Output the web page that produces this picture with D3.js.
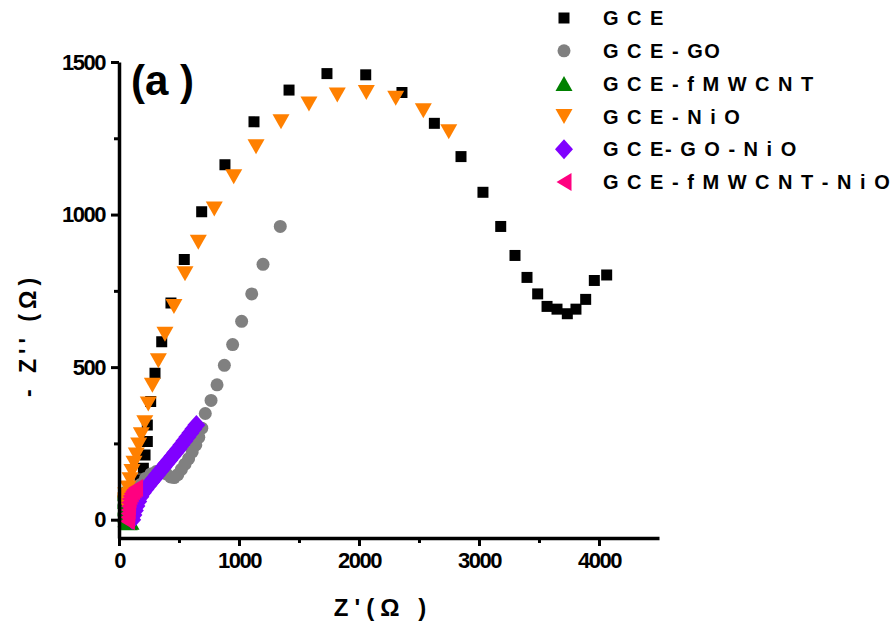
<!DOCTYPE html>
<html><head><meta charset="utf-8">
<script src="https://cdn.jsdelivr.net/npm/d3@7"></script>
<style>
body{margin:0;background:#fff;}
text{font-family:"Liberation Sans",Arial,sans-serif;font-weight:bold;fill:#000;}
</style></head>
<body><svg id="c" width="895" height="625"></svg>
<script>
// ---- data ----
const seriesNames = ["G C E","G C E - GO","G C E - f M W C N T","G C E - N i O","G C E- G O - N i O","G C E - f M W C N T - N i O"];
const seriesColors = ["#000000","#808080","#008000","#FF8000","#8000FF","#FF0080"];
const seriesShapes = ["square","circle","up","down","diamond","left"];
const xTicks = [0,1000,2000,3000,4000];
const xMinor = [500,1500,2500,3500];
const yTicks = [0,500,1000,1500];
const yMinor = [250,750,1250];

const gce = [[75,7],[100,26],[125,56],[150,92],[175,131],[203,169],[217,212],[236,256],[236,310],[264,387],[300,480],[356,583],[433,710],[544,853],[689,1009],[883,1163],[1125,1304],[1417,1408],[1733,1462],[2056,1458],[2358,1400],[2628,1299],[2850,1190],[3033,1073],[3181,961],[3300,866],[3400,794],[3489,740],[3567,699],[3650,690],[3736,675],[3808,690],[3889,722],[3961,784],[4064,802]];
const gceGO = [[70,5],[90,30],[115,60],[145,90],[180,115],[220,135],[265,150],[310,158],[355,158],[395,150],[430,140],[460,138],[490,148],[520,165],[550,182],[580,200],[610,222],[640,245],[665,270],[690,300],[719,348],[767,391],[817,442],[878,506],[947,574],[1022,650],[1106,740],[1200,837],[1344,961]];
const gceMW = [[30,85],[35,60],[40,35],[45,15],[55,0],[70,-8],[85,-10],[100,-8]];
const gceNiO = [[33,65],[53,82],[75,104],[92,131],[108,158],[125,185],[144,212],[164,245],[186,278],[215,318],[244,379],[278,441],[328,521],[383,608],[458,699],[550,806],[661,909],[794,1018],[956,1124],[1142,1222],[1350,1304],[1583,1362],[1819,1392],[2061,1400],[2306,1381],[2536,1340],[2748,1271]];
const gceGONiO = [[110,0],[120,15],[132,30],[145,45],[160,60],[178,75],[198,88],[220,100],[245,112],[270,124],[295,136],[320,148],[345,160],[370,172],[395,184],[420,196],[445,208],[470,220],[495,232],[520,245],[545,258],[570,271],[595,284],[620,297],[645,310]];
const gceMWNiO = [[70,-5],[72,8],[74,20],[76,32],[78,44],[80,56],[84,68],[92,78],[102,86],[114,93],[126,99],[138,104]];
const allSeries = [gce,gceGO,gceMW,gceNiO,gceGONiO,gceMWNiO];

// ---- layout ----
const svg = d3.select("#c");
const x = d3.scaleLinear().domain([0,4500]).range([119,659]);
const y = d3.scaleLinear().domain([-60,1500]).range([538,62]);

function shape(t){
  switch(t){
    case "square": return "M-5.5,-5.5H5.5V5.5H-5.5Z";
    case "circle": return d3.symbol(d3.symbolCircle, Math.PI*6.5*6.5)();
    case "up": return "M0,-7.5L8.5,7.5L-8.5,7.5Z";
    case "down": return "M0,7.5L8.5,-7.5L-8.5,-7.5Z";
    case "diamond": return "M0,-10L9,0L0,10L-9,0Z";
    case "left": return "M-7.5,0L7.5,-9L7.5,9Z";
  }
}

svg.append("clipPath").attr("id","clip").append("rect")
  .attr("x",117.5).attr("y",0).attr("width",700).attr("height",545);

const plot = svg.append("g").attr("clip-path","url(#clip)");
allSeries.forEach((s,i)=>{
  plot.append("g").selectAll("path").data(s).join("path")
    .attr("d",shape(seriesShapes[i]))
    .attr("fill",seriesColors[i])
    .attr("transform",d=>`translate(${x(d[0])},${y(d[1])})`);
});

// ---- axes ----
svg.append("g").attr("transform","translate(0,538)")
  .call(d3.axisBottom(x).tickValues(xTicks).tickSize(8).tickSizeOuter(0).tickPadding(6).tickFormat(d3.format("d")));
svg.append("g").attr("transform","translate(0,538)")
  .call(d3.axisBottom(x).tickValues(xMinor).tickSize(5).tickSizeOuter(0).tickFormat(""))
  .select(".domain").remove();
svg.append("g").attr("transform","translate(119,0)")
  .call(d3.axisLeft(y).tickValues(yTicks).tickSize(8).tickSizeOuter(0).tickPadding(6).tickFormat(d3.format("d")));
svg.append("g").attr("transform","translate(119,0)")
  .call(d3.axisLeft(y).tickValues(yMinor).tickSize(5).tickSizeOuter(0).tickFormat(""))
  .select(".domain").remove();
svg.selectAll(".domain").attr("stroke","#000").attr("stroke-width",3.5);
svg.selectAll(".tick line").attr("stroke","#000").attr("stroke-width",3);
svg.selectAll(".tick text").style("font-family","'Liberation Sans',Arial,sans-serif")
  .style("font-weight","bold").style("font-size","22px").style("letter-spacing","-1.5px").attr("fill","#000");

// ---- labels ----
svg.append("text").attr("x",383).attr("y",616).attr("text-anchor","middle")
  .style("font-size","24px").style("letter-spacing","6px").text("Z'(Ω )");
svg.append("text").attr("transform","translate(36,335) rotate(-90)").attr("text-anchor","middle")
  .style("font-size","23px").style("letter-spacing","5px").text("- Z'' (Ω)");
svg.append("text").attr("x",131).attr("y",95).style("font-size","42px").text("(a )");

// ---- legend ----
const lg = svg.append("g");
seriesNames.forEach((n,i)=>{
  const cy = 18 + i*32.8;
  lg.append("path").attr("d",shape(seriesShapes[i])).attr("fill",seriesColors[i])
    .attr("transform",`translate(564,${cy})`);
  lg.append("text").attr("x",603).attr("y",cy).attr("dy","0.36em")
    .style("font-size","20px").style("letter-spacing","1.5px").text(n);
});
</script></body></html>
